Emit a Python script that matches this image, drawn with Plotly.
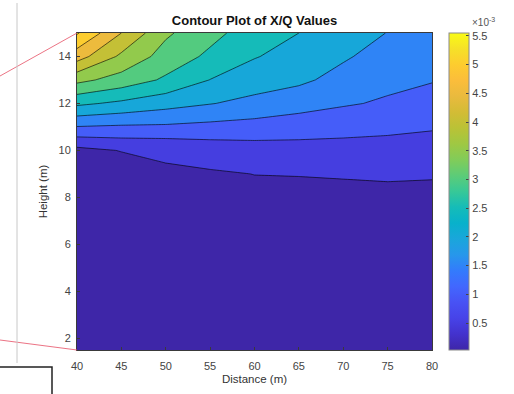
import plotly.graph_objects as go

# ---- data (X/Q values in units of 1e-3) ----
distance = [40, 45, 50, 55, 60, 65, 70, 75, 80]
height = [1.5, 4, 6.5, 8, 9, 10, 11, 12, 13, 14, 15]
xq = [
    [0.03, 0.03, 0.03, 0.04, 0.05, 0.05, 0.06, 0.06, 0.06],
    [0.03, 0.03, 0.05, 0.07, 0.09, 0.10, 0.11, 0.12, 0.12],
    [0.03, 0.04, 0.12, 0.15, 0.20, 0.22, 0.24, 0.25, 0.26],
    [0.06, 0.08, 0.28, 0.30, 0.40, 0.42, 0.43, 0.44, 0.44],
    [0.12, 0.20, 0.44, 0.453, 0.505, 0.51, 0.52, 0.53, 0.52],
    [0.35, 0.52, 0.57, 0.70, 0.78, 0.80, 0.81, 0.825, 0.80],
    [1.48, 1.43, 1.42, 1.36, 1.30, 1.24, 1.17, 1.10, 1.04],
    [2.60, 2.40, 2.19, 2.02, 1.87, 1.69, 1.55, 1.44, 1.29],
    [3.64, 3.30, 2.92, 2.49, 2.22, 2.10, 1.83, 1.62, 1.53],
    [4.72, 3.90, 3.30, 2.90, 2.53, 2.30, 2.06, 1.80, 1.69],
    [5.55, 4.50, 3.58, 3.15, 2.75, 2.50, 2.20, 1.99, 1.85],
]
levels_start, levels_end, levels_step = 0.5, 5.5, 0.5
cbar_ticks = [0.5, 1, 1.5, 2, 2.5, 3, 3.5, 4, 4.5, 5, 5.5]
x_ticks = [40, 45, 50, 55, 60, 65, 70, 75, 80]
y_ticks = [2, 4, 6, 8, 10, 12, 14]

# ---- parula colormap ----
PARULA = [
    (0.000, (0.2422, 0.1504, 0.6603)),
    (0.050, (0.2611, 0.1975, 0.8032)),
    (0.100, (0.2765, 0.2646, 0.9115)),
    (0.150, (0.2810, 0.3228, 0.9579)),
    (0.200, (0.2582, 0.4055, 0.9962)),
    (0.250, (0.1986, 0.4833, 0.9877)),
    (0.300, (0.1540, 0.5902, 0.9218)),
    (0.350, (0.1000, 0.6500, 0.8600)),
    (0.400, (0.0300, 0.6960, 0.7960)),
    (0.450, (0.0840, 0.7360, 0.7200)),
    (0.500, (0.2161, 0.7843, 0.5923)),
    (0.550, (0.3590, 0.8010, 0.4690)),
    (0.600, (0.5044, 0.7993, 0.3480)),
    (0.650, (0.6238, 0.7852, 0.2622)),
    (0.700, (0.7310, 0.7620, 0.2120)),
    (0.750, (0.8286, 0.7381, 0.2072)),
    (0.800, (0.9139, 0.7301, 0.2426)),
    (0.850, (0.9836, 0.7417, 0.2300)),
    (0.900, (0.9941, 0.8014, 0.1860)),
    (0.950, (0.9647, 0.8840, 0.1560)),
    (1.000, (0.9769, 0.9839, 0.0805)),
]


def parula(t):
    t = min(max(t, 0.0), 1.0)
    for (t0, c0), (t1, c1) in zip(PARULA[:-1], PARULA[1:]):
        if t <= t1:
            f = 0 if t1 == t0 else (t - t0) / (t1 - t0)
            c = [c0[i] + f * (c1[i] - c0[i]) for i in range(3)]
            return "rgb(%d,%d,%d)" % tuple(round(v * 255) for v in c)
    return "rgb(249,251,21)"


zmin = min(min(r) for r in xq)
zmax = max(max(r) for r in xq)

# continuous colorscale for the colorbar
cbar_scale = [[p[0], parula(p[0])] for p in PARULA]

# MATLAB-style fill: band above level L coloured at L; plotly evaluates band at L + step/2
levels = []
v = levels_start
while v <= levels_end + 1e-9:
    levels.append(round(v, 6))
    v += levels_step
lo = levels_start - levels_step / 2
hi = levels_end + levels_step / 2
fill_scale = [[0.0, parula(0.0)]]
for L in levels:
    f = (L + levels_step / 2 - lo) / (hi - lo)
    fill_scale.append([min(f, 1.0), parula((L - zmin) / (zmax - zmin))])
fill_scale[-1][1] = parula(1.0)

fig = go.Figure()
fig.add_trace(go.Contour(
    x=distance, y=height, z=xq,
    autocontour=False,
    contours=dict(start=levels_start, end=levels_end, size=levels_step, coloring="fill"),
    colorscale=fill_scale,
    line=dict(color="black", width=0.6, smoothing=0),
    showscale=False,
    hoverinfo="skip",
))
fig.add_trace(go.Scatter(
    x=[distance[0]], y=[height[0]], mode="markers",
    marker=dict(size=1, opacity=0, color=[zmin], colorscale=cbar_scale,
                cmin=zmin, cmax=zmax, showscale=True,
                colorbar=dict(
                    x=(449 - 77) / 355, xanchor="left", xpad=0, ypad=0,
                    y=0.5, yanchor="middle", len=1, lenmode="fraction",
                    thickness=20, thicknessmode="pixels",
                    outlinewidth=1, outlinecolor="#8a8a8a",
                    tickvals=cbar_ticks, ticktext=[("%g" % t) for t in cbar_ticks],
                    ticks="inside", ticklen=3, tickcolor="#444",
                    tickfont=dict(family="Liberation Sans, Arial", size=11, color="#444"),
                )),
    hoverinfo="skip", showlegend=False,
))

axis_common = dict(
    showline=True, mirror=True, linecolor="#3a3a3a", linewidth=1,
    ticks="inside", ticklen=3, tickcolor="#3a3a3a",
    showgrid=False, zeroline=False, automargin=False,
    tickfont=dict(family="Liberation Sans, Arial", size=11, color="#444"),
)
fig.update_xaxes(range=[40, 80], tickvals=x_ticks, ticklabelstandoff=6,
                 title=dict(text="Distance (m)", standoff=3,
                            font=dict(family="Liberation Sans, Arial", size=11.5, color="#333")),
                 **axis_common)
fig.update_yaxes(range=[1.5, 15], tickvals=y_ticks, ticklabelstandoff=3,
                 title=dict(text="Height (m)", standoff=8,
                            font=dict(family="Liberation Sans, Arial", size=11.5, color="#333")),
                 **axis_common)


def px_x(px):
    return (px - 77) / 355


def px_y(py):
    return (350 - py) / 317


shapes = [
    dict(type="line", xref="paper", yref="paper", x0=px_x(0), y0=px_y(76), x1=px_x(77), y1=px_y(33),
         line=dict(color="rgba(232,90,110,0.85)", width=1)),
    dict(type="line", xref="paper", yref="paper", x0=px_x(0), y0=px_y(340), x1=px_x(77), y1=px_y(350),
         line=dict(color="rgba(232,90,110,0.85)", width=1)),
    dict(type="line", xref="paper", yref="paper", x0=px_x(17), y0=px_y(3), x1=px_x(17), y1=px_y(363),
         line=dict(color="#c8c8c8", width=1)),
    dict(type="rect", xref="paper", yref="paper", x0=px_x(-5), y0=px_y(367), x1=px_x(52), y1=px_y(400),
         line=dict(color="#222", width=1.5)),
]

fig.update_layout(
    width=514, height=394,
    margin=dict(l=77, r=82, t=33, b=44, autoexpand=False),
    paper_bgcolor="white", plot_bgcolor="white",
    title=dict(text="<b>Contour Plot of X/Q Values</b>", x=px_x(254.5), xref="paper",
               y=1 - 20 / 394, yanchor="middle",
               font=dict(family="Liberation Sans, Arial", size=13, color="#111")),
    shapes=shapes,
    annotations=[dict(text="×10<sup>-3</sup>", xref="paper", yref="paper",
                      x=px_x(470), y=px_y(22), xanchor="left", yanchor="middle",
                      showarrow=False,
                      font=dict(family="Liberation Sans, Arial", size=10, color="#555"))],
    showlegend=False,
)

fig.write_html("out.html")
